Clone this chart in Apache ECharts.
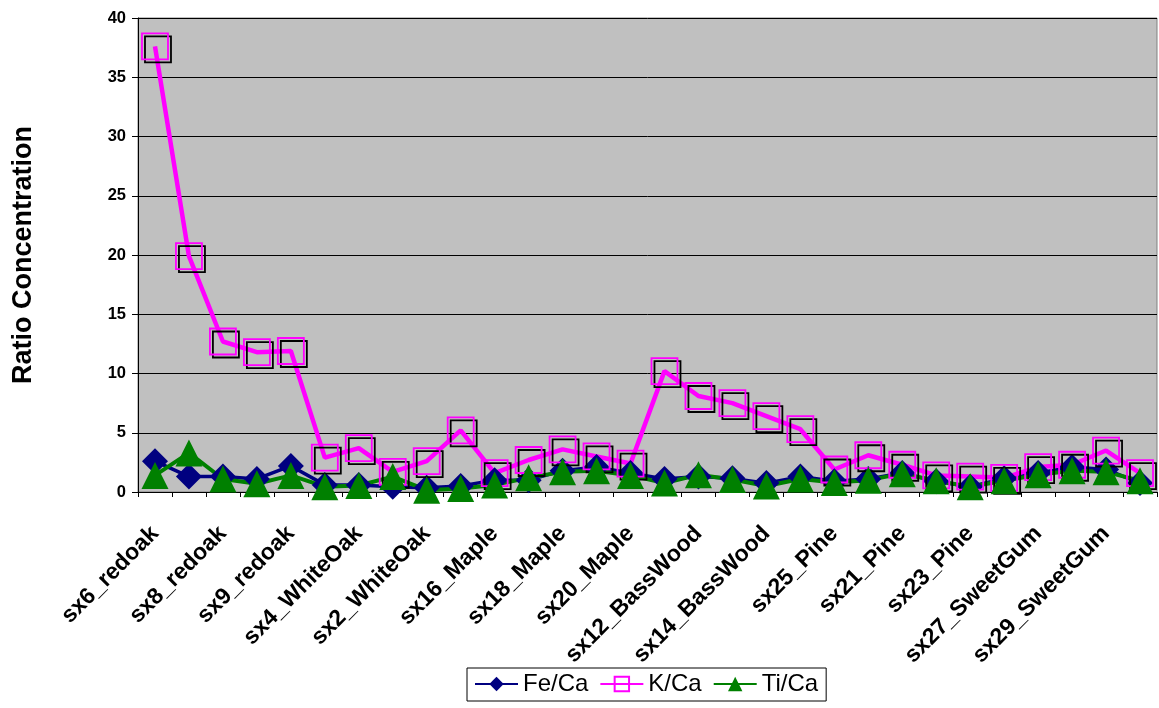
<!DOCTYPE html>
<html>
<head>
<meta charset="utf-8">
<script src="https://cdn.jsdelivr.net/npm/echarts@6/dist/echarts.min.js"></script>
<style>
html,body{margin:0;padding:0;background:#fff;}
#chart{width:1159px;height:708px;}
</style>
</head>
<body>
<div id="chart"></div>
<script>
// Categories (every other label is shown in the original; hidden names are guesses)
var categories = ['sx6_redoak','sx7_redoak','sx8_redoak','sx10_redoak','sx9_redoak','sx5_WhiteOak','sx4_WhiteOak','sx3_WhiteOak','sx2_WhiteOak','sx1_WhiteOak',
  'sx16_Maple','sx17_Maple','sx18_Maple','sx19_Maple','sx20_Maple','sx11_BassWood','sx12_BassWood','sx13_BassWood','sx14_BassWood','sx15_BassWood',
  'sx25_Pine','sx26_Pine','sx21_Pine','sx22_Pine','sx23_Pine','sx24_Pine','sx27_SweetGum','sx28_SweetGum','sx29_SweetGum','sx30_SweetGum'];

var feCa = [2.6, 1.3, 1.3, 1.1, 2.2, 0.6, 0.6, 0.45, 0.35, 0.5, 1.0, 1.0, 1.8, 2.1, 1.6, 1.1, 1.3, 1.15, 0.75, 1.3, 0.9, 1.1, 1.6, 0.9, 0.45, 1.15, 1.6, 2.1, 1.9, 0.75];
var kCa  = [37.6, 19.9, 12.7, 11.8, 11.9, 2.9, 3.7, 1.7, 2.6, 5.2, 1.6, 2.7, 3.6, 3.0, 2.4, 10.2, 8.1, 7.5, 6.4, 5.3, 1.9, 3.1, 2.3, 1.4, 1.3, 1.2, 2.1, 2.3, 3.5, 1.6];
var tiCa = [1.4, 3.3, 1.1, 0.7, 1.4, 0.45, 0.55, 1.3, 0.15, 0.3, 0.6, 1.2, 1.7, 1.8, 1.4, 0.75, 1.45, 1.05, 0.5, 1.1, 0.8, 1.0, 1.55, 0.95, 0.45, 0.95, 1.45, 1.8, 1.7, 0.95];

var yTicks = {min: 0, max: 40, interval: 5};
var yTitle = 'Ratio Concentration';

var FONT = "'Liberation Sans', Arial, sans-serif";
var chart = echarts.init(document.getElementById('chart'), null, {renderer: 'canvas'});
chart.setOption({
  animation: false,
  backgroundColor: '#ffffff',
  textStyle: {fontFamily: FONT},
  grid: {
    left: 138, right: 2, top: 18, bottom: 216,
    show: true, backgroundColor: '#c0c0c0', borderColor: '#808080', borderWidth: 1
  },
  legend: {
    left: 467, top: 668,
    padding: [4, 8, 5, 7],
    itemGap: 11,
    itemWidth: 43,
    itemHeight: 18,
    borderColor: '#000', borderWidth: 1,
    backgroundColor: '#fff',
    textStyle: {fontFamily: FONT, fontSize: 24, color: '#000'},
    data: ['Fe/Ca', 'K/Ca', 'Ti/Ca']
  },
  xAxis: {
    type: 'category',
    data: categories,
    boundaryGap: true,
    axisLine: {lineStyle: {color: '#000', width: 1}},
    axisTick: {show: true, interval: 0, length: 5, lineStyle: {color: '#000'}},
    axisLabel: {
      interval: 1, rotate: 45, margin: 38,
      fontFamily: FONT, fontSize: 23, fontWeight: 'bold', color: '#000'
    },
    splitLine: {show: false}
  },
  yAxis: {
    type: 'value',
    min: yTicks.min, max: yTicks.max, interval: yTicks.interval,
    name: yTitle,
    nameLocation: 'middle',
    nameGap: 101,
    nameTextStyle: {fontFamily: FONT, fontSize: 27, fontWeight: 'bold', color: '#000'},
    axisLine: {show: true, lineStyle: {color: '#000', width: 1}},
    axisTick: {show: true, length: 6, lineStyle: {color: '#000'}},
    axisLabel: {margin: 12, fontFamily: FONT, fontSize: 16.5, fontWeight: 'bold', color: '#000'},
    splitLine: {show: true, lineStyle: {color: '#000', width: 1}}
  },
  series: [
    {
      name: 'Fe/Ca', type: 'line', data: feCa,
      showSymbol: true, showAllSymbol: true,
      symbol: 'diamond', symbolSize: [26, 26],
      lineStyle: {color: '#000080', width: 3.5},
      itemStyle: {color: '#000080', borderColor: '#000080', borderWidth: 0}
    },
    {
      name: 'K/Ca', type: 'line', data: kCa,
      showSymbol: true, showAllSymbol: true,
      symbol: 'rect', symbolSize: 26,
      lineStyle: {color: '#ff00ff', width: 4.5},
      itemStyle: {
        color: 'rgba(0,0,0,0)', borderColor: '#ff00ff', borderWidth: 1.8,
        shadowColor: '#000', shadowBlur: 0, shadowOffsetX: 3, shadowOffsetY: 3
      }
    },
    {
      name: 'Ti/Ca', type: 'line', data: tiCa,
      showSymbol: true, showAllSymbol: true,
      symbol: 'triangle', symbolSize: [27, 27],
      lineStyle: {color: '#008000', width: 4},
      itemStyle: {color: '#008000', borderColor: '#008000', borderWidth: 0}
    }
  ]
});
</script>
</body>
</html>
